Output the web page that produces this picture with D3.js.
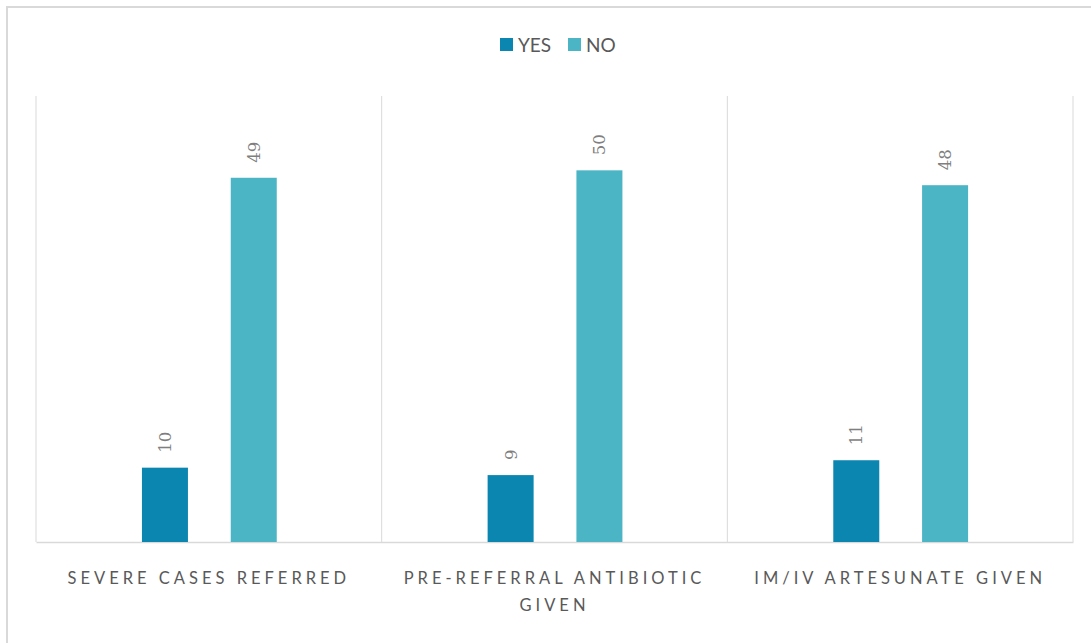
<!DOCTYPE html>
<html>
<head>
<meta charset="utf-8">
<script src="https://cdn.jsdelivr.net/npm/d3@7"></script>
<style>
  html, body { margin: 0; padding: 0; background: #ffffff; }
  svg { display: block; }
</style>
</head>
<body>
<svg id="chart" width="1091" height="643"></svg>
<script>
// Referral and treatment of severe cases: count of YES / NO per item
const categories = ["SEVERE CASES REFERRED", "PRE-REFERRAL ANTIBIOTIC GIVEN", "IM/IV ARTESUNATE GIVEN"];
const seriesNames = ["YES", "NO"];
const yesValues = [10, 9, 11];
const noValues = [49, 50, 48];
const seriesColors = ["#0b86b1", "#4bb5c5"];
const yMax = 60;

const svg = d3.select("#chart");
const W = 1091, H = 643;
const plot = { left: 36, right: 1073, top: 96, bottom: 542 };

// outer chart frame
svg.append("rect")
  .attr("x", 7).attr("y", 7)
  .attr("width", W + 20).attr("height", H + 20)
  .attr("fill", "none").attr("stroke", "#d9d9d9").attr("stroke-width", 2);

const x0 = d3.scaleBand().domain(categories).range([plot.left, plot.right]).padding(0);
const bw = x0.bandwidth();
const x1 = d3.scaleBand().domain(seriesNames)
  .range([bw * 0.3065, bw * 0.6965]).paddingInner(0.482).paddingOuter(0);
const y = d3.scaleLinear().domain([0, yMax]).range([plot.bottom, plot.top]);

// vertical separators between categories (and plot edges)
const edges = categories.map(c => x0(c)).concat([x0(categories[categories.length - 1]) + bw]);
svg.append("g").selectAll("line").data(edges).join("line")
  .attr("x1", d => d).attr("x2", d => d)
  .attr("y1", plot.top).attr("y2", plot.bottom)
  .attr("stroke", "#d9d9d9").attr("stroke-width", 1);

// category axis
const xAxis = svg.append("g")
  .attr("transform", `translate(0,${plot.bottom})`)
  .call(d3.axisBottom(x0).tickSize(0).tickPadding(0));
xAxis.select(".domain").attr("stroke", "#d9d9d9").attr("stroke-width", 1.5);
xAxis.selectAll(".tick text")
  .attr("font-family", "Lato, 'Open Sans', sans-serif")
  .attr("font-size", 16.5)
  .attr("fill", "#595959")
  .style("letter-spacing", "4px")
  .attr("y", 42)
  .attr("dy", 0)
  .each(function (d) {
    // wrap long names over several lines
    const t = d3.select(this);
    const words = d.split(" ");
    t.text(null);
    let line = [];
    let tspan = t.append("tspan").attr("x", 0).attr("y", 42);
    let lineNo = 0;
    for (const w of words) {
      line.push(w);
      tspan.text(line.join(" "));
      if (tspan.node().getComputedTextLength() > bw - 15 && line.length > 1) {
        line.pop();
        tspan.text(line.join(" "));
        line = [w];
        lineNo++;
        tspan = t.append("tspan").attr("x", 0).attr("y", 42 + lineNo * 27).text(w);
      }
    }
  });

// bars
const rows = categories.map((c, i) => ({ cat: c, values: [yesValues[i], noValues[i]] }));
const groups = svg.append("g").selectAll("g").data(rows).join("g")
  .attr("transform", d => `translate(${x0(d.cat)},0)`);

groups.selectAll("rect")
  .data(d => d.values.map((v, k) => ({ key: seriesNames[k], value: v, k })))
  .join("rect")
  .attr("x", d => x1(d.key))
  .attr("width", x1.bandwidth())
  .attr("y", d => y(d.value))
  .attr("height", d => y(0) - y(d.value))
  .attr("fill", d => seriesColors[d.k]);

// rotated value labels
groups.selectAll("text.val")
  .data(d => d.values.map((v, k) => ({ key: seriesNames[k], value: v })))
  .join("text")
  .attr("class", "val")
  .attr("transform", d => `translate(${x1(d.key) + x1.bandwidth() / 2},${y(d.value) - 15}) rotate(-90)`)
  .attr("dy", "0.36em")
  .attr("text-anchor", "start")
  .attr("font-family", "'DejaVu Serif', serif")
  .attr("font-size", 16.5)
  .attr("fill", "#7f7f7f")
  .text(d => d.value);

// legend
const legend = svg.append("g").attr("font-family", "Lato, 'Open Sans', sans-serif")
  .attr("font-size", 19).attr("fill", "#595959");
const legendX = [500, 568];
seriesNames.forEach((name, k) => {
  const g = legend.append("g").attr("transform", `translate(${legendX[k]},38)`);
  g.append("rect").attr("width", 13).attr("height", 13).attr("fill", seriesColors[k]);
  g.append("text").attr("x", 18).attr("y", 13.5).text(name);
});
</script>
</body>
</html>
